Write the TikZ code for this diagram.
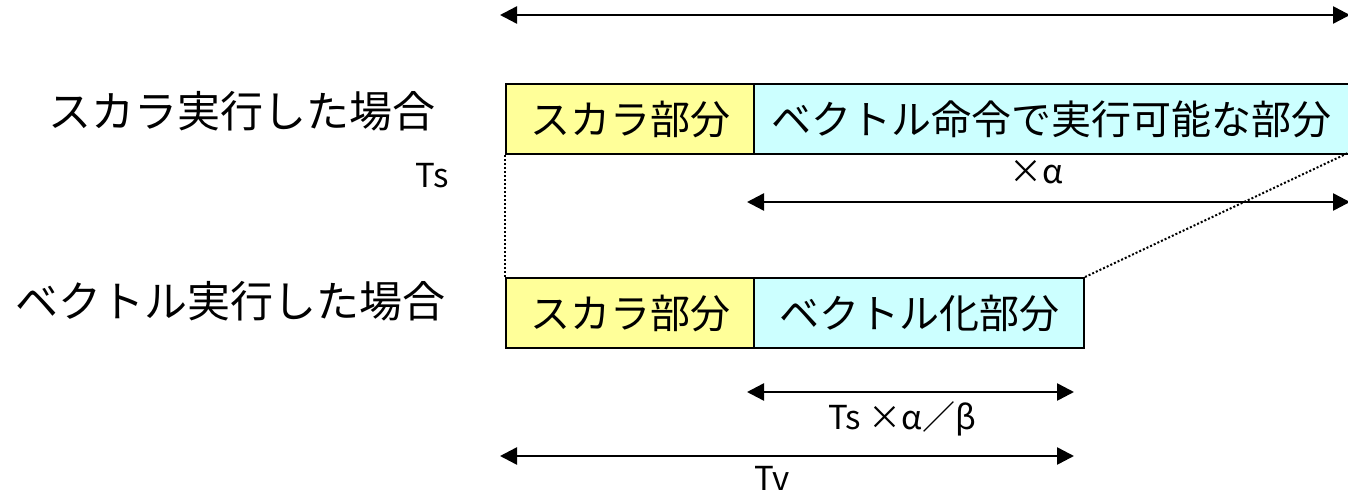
\documentclass[tikz,border=0pt]{standalone}
\usepackage{fontspec}
\setmainfont{Noto Sans CJK JP}
\usetikzlibrary{arrows.meta}
\definecolor{boxyellow}{HTML}{FFFF99}
\definecolor{boxcyan}{HTML}{CCFFFF}
\begin{document}
\begin{tikzpicture}[x=1pt,y=-1pt,
  part/.style={draw=black,line width=2pt,inner sep=0pt,anchor=north west,minimum height=70pt,font=\fontsize{40pt}{46pt}\selectfont},
  lbl/.style={inner sep=0pt,font=\fontsize{43pt}{50pt}\selectfont},
  sml/.style={inner sep=0pt,font=\fontsize{33pt}{40pt}\selectfont},
  dim/.style={line width=2.5pt,{Triangle[length=17pt,width=17pt]}-{Triangle[length=17pt,width=17pt]}},
  dots/.style={line width=2pt,dotted}]
\useasboundingbox (0,0) rectangle (1348,492);
% top row
\node[part,fill=boxyellow,minimum width=248pt] (s1) at (505,83) {スカラ部分};
\node[part,fill=boxcyan,minimum width=600pt] (v1) at (753,83) {\hspace*{-6pt}ベクトル命令で実行可能な部分};
% bottom row
\node[part,fill=boxyellow,minimum width=248pt] (s2) at (505,277) {スカラ部分};
\node[part,fill=boxcyan,minimum width=330pt] (v2) at (753,277) {ベクトル化部分};
% labels
\node[lbl,anchor=east] (l1) at (436,111) {スカラ実行した場合};
\node[lbl,anchor=east] (l2) at (446,301) {ベクトル実行した場合};
\node[sml] (ts) at (432,176) {Ts};
\node[sml] (xa) at (1036,172) {×α};
\node[sml] (tsab) at (902,419) {Ts ×α／β};
\node[sml] (tv) at (772,478) {Tv};
% dimension arrows
\coordinate (a1l) at (500,15);
\coordinate (a1r) at (1350,15);
\coordinate (a2l) at (747,202);
\coordinate (a2r) at (1350,202);
\coordinate (a3l) at (747,392);
\coordinate (a3r) at (1074,392);
\coordinate (a4l) at (500,456);
\coordinate (a4r) at (1074,456);
\draw[dim] (a1l) -- (a1r);
\draw[dim] (a2l) -- (a2r);
\draw[dim] (a3l) -- (a3r);
\draw[dim] (a4l) -- (a4r);
% dotted guides
\coordinate (c1) at (1348,153);
\draw[dots] (s1.south west) -- (s2.north west);
\draw[dots] (v2.north east) -- (c1);
\end{tikzpicture}
\end{document}
